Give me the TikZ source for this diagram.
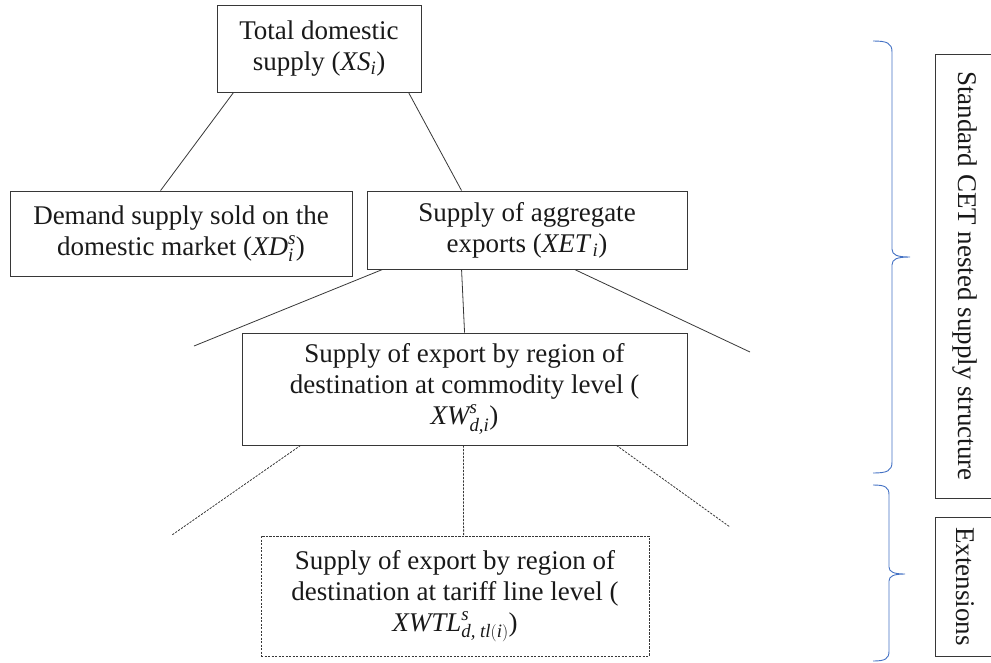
\documentclass[tikz,border=0pt]{standalone}
\usepackage{amsmath}
\usepackage{fontspec}
\setmainfont{Liberation Serif}
\newcommand{\vv}[1]{\text{\itshape #1}}
\definecolor{linegray}{RGB}{55,55,55}
\definecolor{textblack}{RGB}{25,25,25}
\definecolor{braceblue}{RGB}{68,114,196}
\begin{document}
\begin{tikzpicture}[x=1pt,y=-1pt,
  box/.style={draw=linegray, line width=0.9pt, align=center, inner sep=0pt,
    font=\fontsize{27}{31}\selectfont, text=textblack},
  dbox/.style={box, dash pattern=on 2.2pt off 1.3pt, line width=0.8pt},
  conn/.style={draw=linegray, line width=0.8pt},
  dconn/.style={draw=linegray, line width=0.8pt, dash pattern=on 2.2pt off 1.3pt},
  sidebox/.style={draw=linegray, line width=0.9pt, inner sep=0pt, rotate=-90,
    font=\fontsize{27}{31}\selectfont, text=textblack},
  brace/.style={draw=braceblue, line width=0.9pt}]
\useasboundingbox (0,0) rectangle (991,662);

% boxes
\node[box, minimum width=204pt, minimum height=87pt] (top) at (319,48.5)
  {Total domestic\\ supply ($\vv{XS}_{\vv{i}}$)};
\node[box, minimum width=342pt, minimum height=85pt] (left) at (181,233.5)
  {Demand supply sold on the\\ domestic market ($\vv{XD}_{\vv{i}}^{\vv{s}}$)};
\node[box, minimum width=320pt, minimum height=78pt] (exp) at (527,230)
  {Supply of aggregate\\ exports ($\vv{XET}_{\,\vv{i}}$)};
\node[box, minimum width=445pt, minimum height=112pt] (com) at (464.5,389)
  {Supply of export by region of\\ destination at commodity level (\\ $\vv{XW}^{\vv{s}}_{\vv{d,i}}$)};
\node[dbox, minimum width=388pt, minimum height=120pt] (tar) at (455,596)
  {Supply of export by region of\\ destination at tariff line level (\\ $\vv{XWTL}^{\vv{s}}_{\vv{d,\ tl}(\vv{i})}$)};

% free ends
\coordinate (c1) at (194,346);
\coordinate (c2) at (750,352);
\coordinate (c3) at (172,535);
\coordinate (c4) at (730,527);

% solid connectors
\draw[conn] ([xshift=17pt]top.south west) -- ([xshift=151pt]left.north west);
\draw[conn] ([xshift=192pt]top.south west) -- ([xshift=95pt]exp.north west);
\draw[conn] ([xshift=16pt]exp.south west) -- (c1);
\draw[conn] ([xshift=95pt]exp.south west) -- ([xshift=223pt]com.north west);
\draw[conn] ([xshift=208pt]exp.south west) -- (c2);

% dashed connectors
\draw[dconn] ([xshift=59pt]com.south west) -- (c3);
\draw[dconn] ([xshift=222pt]com.south west) -- ([xshift=203pt]tar.north west);
\draw[dconn] ([xshift=375pt]com.south west) -- (c4);

% side boxes
\node[sidebox, minimum width=444pt, minimum height=60pt] (std) at (965,276)
  {Standard CET nested supply structure};
\node[sidebox, minimum width=139pt, minimum height=60pt] (ext) at (965,586.5)
  {Extensions};

% braces
\coordinate (b1a) at (873,41);
\coordinate (b1t) at (910,257);
\coordinate (b1b) at (873,473);
\draw[brace] (b1a) .. controls (887,41) and (892,43) .. (892,52)
  -- (892,249) .. controls (892,255) and (897,257) .. (b1t)
  .. controls (897,257) and (892,259) .. (892,265)
  -- (892,462) .. controls (892,471) and (887,473) .. (b1b);
\coordinate (b2a) at (873,485);
\coordinate (b2t) at (905,574);
\coordinate (b2b) at (873,661);
\draw[brace] (b2a) .. controls (885,485) and (889,487) .. (889,495)
  -- (889,567) .. controls (889,572) and (894,574) .. (b2t)
  .. controls (894,574) and (889,576) .. (889,581)
  -- (889,651) .. controls (889,659) and (885,661) .. (b2b);
\end{tikzpicture}
\end{document}
